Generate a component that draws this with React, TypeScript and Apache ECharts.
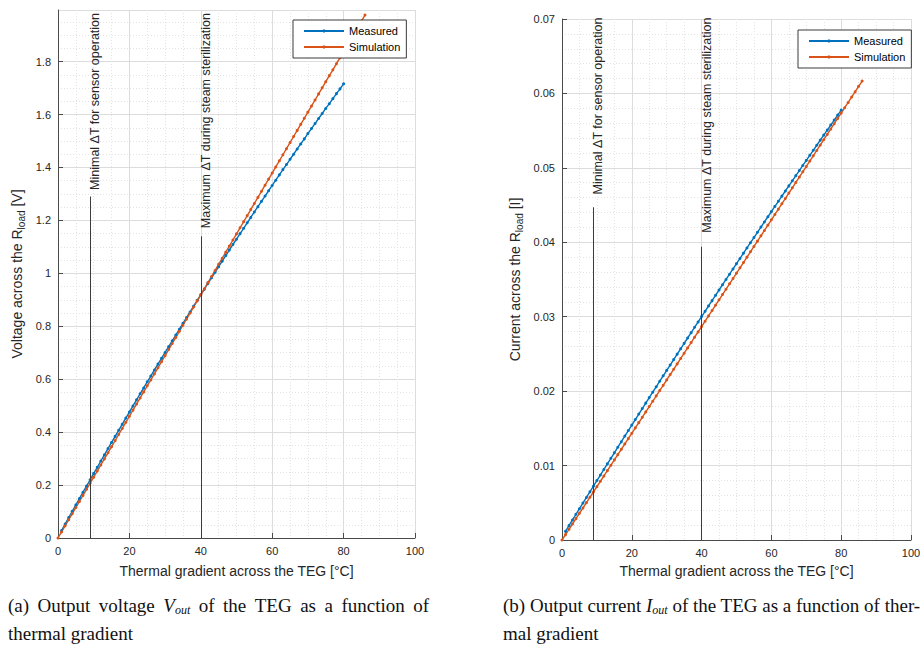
import React, { useEffect, useRef } from "react";
import * as echarts from "echarts";

// ---------- data ----------
const thermalGradient = [
  0, 1, 2, 3, 4, 5, 6, 7, 8, 9, 10, 11, 12, 13, 14, 15, 16, 17, 18, 19,
  20, 21, 22, 23, 24, 25, 26, 27, 28, 29, 30, 31, 32, 33, 34, 35, 36, 37, 38, 39,
  40, 41, 42, 43, 44, 45, 46, 47, 48, 49, 50, 51, 52, 53, 54, 55, 56, 57, 58, 59,
  60, 61, 62, 63, 64, 65, 66, 67, 68, 69, 70, 71, 72, 73, 74, 75, 76, 77, 78, 79,
  80, 81, 82, 83, 84, 85, 86,
];
// measured series start at 1 °C and stop at 80 °C
const measuredGradient = thermalGradient.slice(1, 81);

const voltageMeasured = [
  0.028, 0.053, 0.077, 0.101, 0.125, 0.149, 0.173, 0.196, 0.22, 0.244,
  0.267, 0.291, 0.314, 0.338, 0.361, 0.384, 0.407, 0.43, 0.453, 0.476,
  0.499, 0.522, 0.545, 0.567, 0.59, 0.612, 0.635, 0.657, 0.679, 0.701,
  0.723, 0.745, 0.767, 0.789, 0.811, 0.833, 0.854, 0.876, 0.898, 0.919,
  0.94, 0.962, 0.983, 1.004, 1.025, 1.046, 1.067, 1.088, 1.109, 1.129,
  1.15, 1.17, 1.191, 1.211, 1.232, 1.252, 1.272, 1.292, 1.312, 1.332,
  1.352, 1.372, 1.392, 1.411, 1.431, 1.45, 1.47, 1.489, 1.508, 1.528,
  1.547, 1.566, 1.585, 1.604, 1.623, 1.641, 1.66, 1.679, 1.697, 1.716,
];
const voltageSimulation = [
  0, 0.023, 0.046, 0.069, 0.092, 0.115, 0.138, 0.161, 0.184, 0.207,
  0.23, 0.253, 0.276, 0.299, 0.322, 0.345, 0.368, 0.391, 0.414, 0.437,
  0.46, 0.483, 0.506, 0.529, 0.552, 0.575, 0.597, 0.62, 0.643, 0.666,
  0.689, 0.712, 0.735, 0.758, 0.781, 0.804, 0.827, 0.85, 0.873, 0.896,
  0.919, 0.942, 0.965, 0.988, 1.011, 1.034, 1.057, 1.08, 1.103, 1.126,
  1.149, 1.172, 1.195, 1.218, 1.241, 1.264, 1.287, 1.31, 1.333, 1.356,
  1.379, 1.402, 1.425, 1.448, 1.471, 1.494, 1.517, 1.54, 1.563, 1.586,
  1.609, 1.632, 1.655, 1.678, 1.701, 1.724, 1.747, 1.769, 1.792, 1.815,
  1.838, 1.861, 1.884, 1.907, 1.93, 1.953, 1.976,
];
const currentMeasured = [
  0.00116, 0.00193, 0.00269, 0.00345, 0.0042, 0.00496, 0.00572, 0.00647, 0.00723, 0.00798,
  0.00873, 0.00948, 0.01023, 0.01098, 0.01172, 0.01247, 0.01321, 0.01396, 0.0147, 0.01544,
  0.01618, 0.01692, 0.01766, 0.01839, 0.01913, 0.01986, 0.02059, 0.02133, 0.02206, 0.02279,
  0.02351, 0.02424, 0.02497, 0.02569, 0.02642, 0.02714, 0.02786, 0.02858, 0.0293, 0.03002,
  0.03073, 0.03145, 0.03216, 0.03287, 0.03359, 0.0343, 0.03501, 0.03571, 0.03642, 0.03713,
  0.03783, 0.03854, 0.03924, 0.03994, 0.04064, 0.04134, 0.04204, 0.04273, 0.04343, 0.04412,
  0.04482, 0.04551, 0.0462, 0.04689, 0.04758, 0.04826, 0.04895, 0.04964, 0.05032, 0.051,
  0.05168, 0.05236, 0.05304, 0.05372, 0.0544, 0.05507, 0.05575, 0.05642, 0.05709, 0.05776,
];
const currentSimulation = [
  0, 0.00072, 0.00143, 0.00215, 0.00287, 0.00359, 0.0043, 0.00502, 0.00574, 0.00645,
  0.00717, 0.00789, 0.0086, 0.00932, 0.01004, 0.01076, 0.01147, 0.01219, 0.01291, 0.01362,
  0.01434, 0.01506, 0.01577, 0.01649, 0.01721, 0.01793, 0.01864, 0.01936, 0.02008, 0.02079,
  0.02151, 0.02223, 0.02294, 0.02366, 0.02438, 0.0251, 0.02581, 0.02653, 0.02725, 0.02796,
  0.02868, 0.0294, 0.03011, 0.03083, 0.03155, 0.03227, 0.03298, 0.0337, 0.03442, 0.03513,
  0.03585, 0.03657, 0.03728, 0.038, 0.03872, 0.03944, 0.04015, 0.04087, 0.04159, 0.0423,
  0.04302, 0.04374, 0.04445, 0.04517, 0.04589, 0.04661, 0.04732, 0.04804, 0.04876, 0.04947,
  0.05019, 0.05091, 0.05162, 0.05234, 0.05306, 0.05378, 0.05449, 0.05521, 0.05593, 0.05664,
  0.05736, 0.05808, 0.05879, 0.05951, 0.06023, 0.06095, 0.06166,
];

const seriesNames = ["Measured", "Simulation"];
const annotationX = [9, 40];
const annotationLabels = [
  "Minimal ΔT for sensor operation",
  "Maximum ΔT during steam sterilization",
];
const voltageAnnotationTop = [1.29, 1.14];
const currentAnnotationTop = [0.0447, 0.0394];

const xRange = { min: 0, max: 100, interval: 20 };
const voltageRange = { min: 0, max: 1.995, interval: 0.2 };
const currentRange = { min: 0, max: 0.07, interval: 0.01 };

const xTitle = "Thermal gradient across the TEG [°C]";
const voltageTitle = "{a|Voltage across the R}{b|load}{a| [V]}";
const currentTitle = "{a|Current across the R}{b|load}{a| [I]}";

// justified first line of caption (a): spaces are widened tokens
const captionA1 =
  "(a){w| }Output{w| }voltage{w| }{i|V}{s|out}{w| }of{w| }the{w| }TEG{w| }as{w| }a{w| }function{w| }of";
const captionA2 = "thermal gradient";
const captionB1 = "(b) Output current {i|I}{s|out} of the TEG as a function of ther-";
const captionB2 = "mal gradient";

// ---------- styles ----------
const SANS = '"Liberation Sans", Arial, Helvetica, sans-serif';
const SERIF = '"Liberation Serif", "Times New Roman", serif';
const BLUE = "#0072BD";
const ORANGE = "#D95319";
const AXIS = "#4a4a4a";
const TXT = "#262626";

const pairs = (xs: number[], ys: number[]) => ys.map((y, i) => [xs[i], y]);

function xAxis(gridIndex: number, nameGap: number) {
  return {
    type: "value",
    gridIndex,
    ...xRange,
    name: xTitle,
    nameLocation: "middle",
    nameGap,
    nameTextStyle: { fontFamily: SANS, fontSize: 14, color: TXT },
    axisLine: { show: true, onZero: false, lineStyle: { color: AXIS, width: 1 } },
    axisTick: { show: true, inside: true, length: 5, lineStyle: { color: AXIS } },
    axisLabel: { fontFamily: SANS, fontSize: 11, color: TXT, margin: 7 },
    splitLine: { show: true, lineStyle: { color: "#dcdcdc", width: 1 } },
    minorTick: { show: false, splitNumber: 4 },
    minorSplitLine: { show: true, lineStyle: { color: "#e3e3e3", width: 1, type: [1, 2] } },
  };
}

function yAxis(gridIndex: number, range: any, name: string, nameGap: number, minorSplit: number) {
  return {
    type: "value",
    gridIndex,
    ...range,
    name,
    nameLocation: "middle",
    nameGap,
    nameTextStyle: {
      fontFamily: SANS,
      fontSize: 14,
      color: TXT,
      rich: {
        a: { fontFamily: SANS, fontSize: 14, color: TXT },
        b: { fontFamily: SANS, fontSize: 10, color: TXT, padding: [9, 0, 0, 0] },
      },
    },
    axisLine: { show: true, onZero: false, lineStyle: { color: AXIS, width: 1 } },
    axisTick: { show: true, inside: true, length: 5, lineStyle: { color: AXIS } },
    axisLabel: { fontFamily: SANS, fontSize: 11, color: TXT, margin: 7, showMaxLabel: range.max === 0.07 },
    splitLine: { show: true, lineStyle: { color: "#dcdcdc", width: 1 } },
    minorTick: { show: false, splitNumber: minorSplit },
    minorSplitLine: { show: true, lineStyle: { color: "#e3e3e3", width: 1, type: [1, 2] } },
  };
}

function lineSeries(name: string, idx: number, data: number[][], color: string, extra: any = {}) {
  return {
    type: "line",
    name,
    xAxisIndex: idx,
    yAxisIndex: idx,
    data,
    symbol: "circle",
    symbolSize: 3,
    showSymbol: true,
    lineStyle: { color, width: 1.4 },
    itemStyle: { color },
    emphasis: { disabled: true },
    z: 3,
    ...extra,
  };
}

function annotationMarkLine(tops: number[]) {
  return {
    silent: true,
    symbol: ["none", "none"],
    label: { show: false },
    lineStyle: { color: "#3c3c3c", width: 1, type: "solid" },
    emphasis: { disabled: true },
    data: annotationX.map((x, i) => [{ coord: [x, 0] }, { coord: [x, tops[i]] }]),
  };
}

function legend(left: number, top: number) {
  return {
    data: seriesNames,
    orient: "vertical",
    left,
    top,
    padding: [4, 6, 4, 10],
    itemGap: 2,
    itemWidth: 40,
    itemHeight: 4,
    backgroundColor: "#ffffff",
    borderColor: "#3a3a3a",
    borderWidth: 1,
    borderRadius: 0,
    selectedMode: false,
    textStyle: { fontFamily: SANS, fontSize: 11, color: "#000", lineHeight: 14 },
  };
}

const option: any = {
  animation: false,
  backgroundColor: "#ffffff",
  grid: [
    { left: 58, top: 10, width: 357, height: 528 },
    { left: 562, top: 19, width: 349, height: 521 },
  ],
  xAxis: [xAxis(0, 26), xAxis(1, 24)],
  yAxis: [
    yAxis(0, voltageRange, voltageTitle, 32, 4),
    yAxis(1, currentRange, currentTitle, 38, 5),
  ],
  legend: [legend(293, 20), legend(798, 30)],
  series: [
    lineSeries(seriesNames[0], 0, pairs(measuredGradient, voltageMeasured), BLUE, {
      markLine: annotationMarkLine(voltageAnnotationTop),
    }),
    lineSeries(seriesNames[1], 0, pairs(thermalGradient, voltageSimulation), ORANGE),
    lineSeries(seriesNames[0], 1, pairs(measuredGradient, currentMeasured), BLUE, {
      markLine: annotationMarkLine(currentAnnotationTop),
    }),
    lineSeries(seriesNames[1], 1, pairs(thermalGradient, currentSimulation), ORANGE),
  ],
};

function captionText(text: string, x: number, y: number) {
  return {
    type: "text",
    x,
    y,
    silent: true,
    style: {
      text,
      font: `19px ${SERIF}`,
      fontFamily: SERIF,
      fontSize: 19,
      fill: "#111",
      textVerticalAlign: "middle",
      verticalAlign: "middle",
      rich: {
        i: { fontFamily: SERIF, fontSize: 19, fontStyle: "italic", fill: "#111" },
        s: { fontFamily: SERIF, fontSize: 12, fontStyle: "italic", fill: "#111", padding: [9, 0, 0, 0] },
        w: { fontFamily: SERIF, fontSize: 19, fill: "#111", width: 8.5 },
      },
    },
  };
}

export default function App() {
  const ref = useRef<HTMLDivElement>(null);
  useEffect(() => {
    if (!ref.current) return;
    const chart = echarts.init(ref.current, null, { renderer: "svg" });
    chart.setOption(option);

    const graphics: any[] = [
      captionText(captionA1, 8, 605),
      captionText(captionA2, 8, 633),
      captionText(captionB1, 503, 605),
      captionText(captionB2, 503, 633),
    ];
    const addAnnotations = (idx: number, ymax: number) => {
      annotationX.forEach((x, i) => {
        const p = chart.convertToPixel({ xAxisIndex: idx, yAxisIndex: idx } as any, [x, ymax]) as number[];
        graphics.push({
          type: "text",
          x: p[0] + 5,
          y: p[1] + 3,
          rotation: Math.PI / 2,
          silent: true,
          style: {
            text: annotationLabels[i],
            font: `12.5px ${SANS}`,
            fill: TXT,
            textAlign: "right",
            align: "right",
            textVerticalAlign: "middle",
            verticalAlign: "middle",
          },
        });
      });
    };
    addAnnotations(0, voltageRange.max);
    addAnnotations(1, currentRange.max + 0.0006);
    chart.setOption({ graphic: graphics });

    return () => chart.dispose();
  }, []);
  return (
    <div
      ref={ref}
      style={{ position: "fixed", left: 0, top: 0, width: 924, height: 646, background: "#fff" }}
    />
  );
}
